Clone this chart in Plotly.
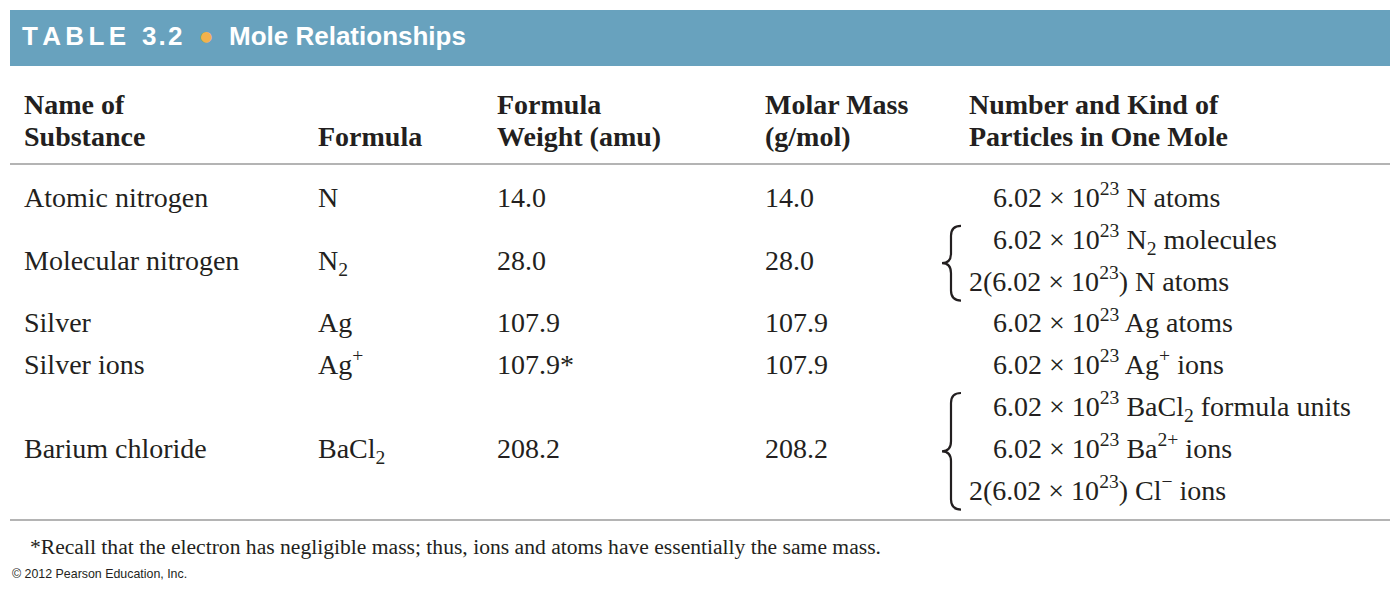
import plotly.graph_objects as go

# Table contents
names = ["Atomic nitrogen", "Molecular nitrogen", "Silver", "Silver ions", "Barium chloride"]
formulas = ["N", "N<sub>2</sub>", "Ag", "Ag<sup>+</sup>", "BaCl<sub>2</sub>"]
formula_weights = ["14.0", "28.0", "107.9", "107.9*", "208.2"]
molar_masses = ["14.0", "28.0", "107.9", "107.9", "208.2"]
particles = [
    ["6.02 × 10<sup>23</sup> N atoms"],
    ["6.02 × 10<sup>23</sup> N<sub>2</sub> molecules",
     "2(6.02 × 10<sup>23</sup>) N atoms"],
    ["6.02 × 10<sup>23</sup> Ag atoms"],
    ["6.02 × 10<sup>23</sup> Ag<sup>+</sup> ions"],
    ["6.02 × 10<sup>23</sup> BaCl<sub>2</sub> formula units",
     "6.02 × 10<sup>23</sup> Ba<sup>2+</sup> ions",
     "2(6.02 × 10<sup>23</sup>) Cl<sup>−</sup> ions"],
]
header_top = ["Name of", "", "Formula", "Molar Mass", "Number and Kind of"]
header_bottom = ["Substance", "Formula", "Weight (amu)", "(g/mol)", "Particles in One Mole"]

title_label = "TABLE 3.2"
title_text = "Mole Relationships"
footnote = "*Recall that the electron has negligible mass; thus, ions and atoms have essentially the same mass."
credit = "© 2012 Pearson Education, Inc."

# Layout settings (page body adds an 8px offset, so ranges start at 8)
W, H = 1400, 592
OFF = 8
col_x = [24, 318, 497, 765, 969]
indent = 24
first_line_y = 200
line_step = 41.8
header_y = [107, 139]

BAR = "#68a2be"
DOT = "#f2b24c"
INK = "#231f20"
RULE = "#b4b4b4"
SERIF = "Liberation Serif, Times New Roman, serif"
SANS = "Liberation Sans, Arial, sans-serif"

# line positions of the particles column, row centre = mean of its lines
line_y = []
row_y = []
k = 0
for group in particles:
    ys = [first_line_y + line_step * (k + i) for i in range(len(group))]
    line_y.append(ys)
    row_y.append(sum(ys) / len(ys))
    k += len(group)

fig = go.Figure()


def add_text(xs, ys, texts, size=28, family=SERIF, color=INK):
    fig.add_trace(go.Scatter(
        x=xs, y=ys, text=texts, mode="text", textposition="middle right",
        textfont=dict(family=family, size=size, color=color),
        hoverinfo="skip", showlegend=False,
    ))


# title bar text, letter-spaced with hair spaces
spaced = "\u200a\u200a".join(title_label).replace("\u200a\u200a.\u200a\u200a", "\u200a.\u200a")
add_text([22], [38], [f"<b>{spaced}</b>"], size=26, family=SANS, color="white")
add_text([200], [37], ["●"], size=14, family="DejaVu Sans, sans-serif", color=DOT)
add_text([229], [38], [f"<b>{title_text}</b>"], size=26, family=SANS, color="white")

# column headers
for i in range(5):
    if header_top[i]:
        add_text([col_x[i]], [header_y[0]], [f"<b>{header_top[i]}</b>"])
    add_text([col_x[i]], [header_y[1]], [f"<b>{header_bottom[i]}</b>"])

# body columns
for col, values in enumerate([names, formulas, formula_weights, molar_masses]):
    add_text([col_x[col]] * len(values), row_y, values)

px_, py_, pt_ = [], [], []
for group, ys in zip(particles, line_y):
    for line, y in zip(group, ys):
        px_.append(col_x[4] + (0 if line.startswith("2(") else indent))
        py_.append(y)
        pt_.append(line)
add_text(px_, py_, pt_)

# footnote and credit
add_text([30], [549], [footnote], size=21.6)
add_text([12], [575], [credit], size=12.4, family=SANS)

shapes = [
    dict(type="rect", x0=10, x1=1390, y0=10, y1=66, fillcolor=BAR, line_width=0, layer="below"),
    dict(type="line", x0=10, x1=1390, y0=164, y1=164, line=dict(color=RULE, width=2)),
    dict(type="line", x0=10, x1=1390, y0=520, y1=520, line=dict(color=RULE, width=2)),
]


def brace(ys, xr=961, xs=951, xl=942):
    y0, y1 = ys[0] - 16, ys[-1] + 17
    ym = (y0 + y1) / 2
    h = 10
    path = (f"M {xr},{y0} Q {xs},{y0} {xs},{y0 + h} L {xs},{ym - h} "
            f"Q {xs},{ym} {xl},{ym} Q {xs},{ym} {xs},{ym + h} "
            f"L {xs},{y1 - h} Q {xs},{y1} {xr},{y1}")
    return dict(type="path", path=path, line=dict(color=INK, width=2.2))


for ys in line_y:
    if len(ys) > 1:
        shapes.append(brace(ys))

fig.update_layout(
    width=W, height=H,
    margin=dict(l=0, r=0, t=0, b=0),
    paper_bgcolor="white", plot_bgcolor="white",
    xaxis=dict(range=[OFF, W + OFF], visible=False, fixedrange=True),
    yaxis=dict(range=[H + OFF, OFF], visible=False, fixedrange=True),
    shapes=shapes,
)

fig.write_html("out.html")
